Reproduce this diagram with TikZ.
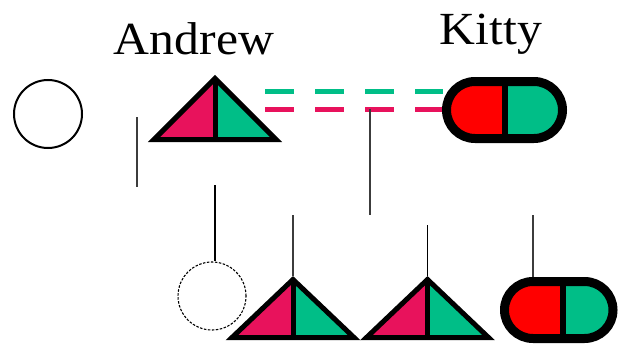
\documentclass[tikz,border=0pt]{standalone}
\usepackage{fontspec}
\setmainfont{Liberation Serif}
\definecolor{crim}{RGB}{232,18,92}
\definecolor{grn}{RGB}{0,190,135}
\definecolor{pred}{RGB}{255,0,0}
\definecolor{lgray}{RGB}{60,60,60}
\tikzset{
  tribd/.style={draw=black, line width=5pt, line join=miter},
  pillbd/.style={draw=black, line width=9pt},
  divbd/.style={draw=black, line width=6pt},
  conn/.style={draw=lgray, line width=1.4pt},
  lbl/.style={anchor=base, inner sep=0pt, font=\fontsize{46}{50}\selectfont},
  dashg/.style={draw=grn, line width=5pt, dash pattern=on 29pt off 21pt},
  dashr/.style={draw=crim, line width=5pt, dash pattern=on 29pt off 21pt},
}
% #1 name, #2 apex x, #3 base y (centreline), #4 half width, #5 height
\newcommand{\pedtri}[5]{%
  \coordinate (#1) at (#2,#3-#5-3.5);
  \fill[crim] (#2,#3-#5) -- (#2-#4,#3) -- (#2,#3) -- cycle;
  \fill[grn] (#2,#3-#5) -- (#2+#4,#3) -- (#2,#3) -- cycle;
  \draw[tribd] (#2,#3-#5) -- (#2-#4,#3) -- (#2+#4,#3) -- cycle;
  \draw[tribd] (#2,#3-#5) -- (#2,#3);
}
% #1 name, #2 left x, #3 divider x, #4 right x (centreline), #5 centre y
\newcommand{\pedpill}[5]{%
  \coordinate (#1) at (#3,#5);
  \coordinate (#1n) at (#3,#5-33);
  \coordinate (#1w) at (#2-4.5,#5);
  \begin{scope}
    \clip[rounded corners=28.5pt] (#2,#5-28.5) rectangle (#4,#5+28.5);
    \fill[pred] (#2-10,#5-40) rectangle (#3,#5+40);
    \fill[grn] (#3,#5-40) rectangle (#4+10,#5+40);
  \end{scope}
  \draw[pillbd, rounded corners=28.5pt] (#2,#5-28.5) rectangle (#4,#5+28.5);
  \draw[divbd] (#3,#5-28.5) -- (#3,#5+28.5);
}
\begin{document}
\begin{tikzpicture}[x=1pt,y=-1pt]
\clip (0,0) rectangle (618,345);
\fill[white] (0,0) rectangle (618,345);

% labels
\node[lbl] (andrew) at (194,55) {\scalebox{1.08}[1]{Andrew}};
\node[lbl] (kitty) at (491,45) {\scalebox{1.08}[1]{Kitty}};

% top-left circle
\node[circle, draw=black, line width=2pt, minimum size=68pt, inner sep=0pt] (c1) at (48,114) {};

% free vertical line
\coordinate (l1a) at (137,117);
\coordinate (l1b) at (137,187);
\draw[conn] (l1a) -- (l1b);

% dashed couple lines
\coordinate (dg) at (265,91);
\coordinate (dr) at (265,109);
\coordinate (kw) at (443,100);
\draw[dashg] (dg) -- (dg -| kw);
\draw[dashr] (dr) -- (dr -| kw);

% Andrew
\pedtri{andrewT}{215}{139.5}{61}{61}

% Kitty
\pedpill{kittyP}{446.5}{504.5}{562.5}{110}

% bottom row
\node[circle, draw=black, line width=1.1pt, dash pattern=on 2.5pt off 1.5pt, minimum size=68pt, inner sep=0pt] (c2) at (212,296) {};
\pedtri{t2}{293}{337.5}{61}{58}
\pedtri{t3}{427.5}{337.5}{61}{58}
\pedpill{p2}{504.5}{562.5}{613}{310}

% connectors
\coordinate (v2) at (215,185);
\draw[draw=black, line width=1.8pt] (v2) -- (v2 |- c2.north);
\coordinate (mid) at (370,109);
\coordinate (midb) at (370,215);
\draw[conn] (mid) -- (midb);
\coordinate (t2top) at (293,215);
\draw[conn] (t2top) -- (t2);
\coordinate (t3top) at (427.5,225);
\draw[draw=black, line width=1.8pt] (t3top) -- (t3);
\coordinate (p2top) at (533,215);
\draw[conn] (p2top) -- (p2top |- p2n);
\end{tikzpicture}
\end{document}
